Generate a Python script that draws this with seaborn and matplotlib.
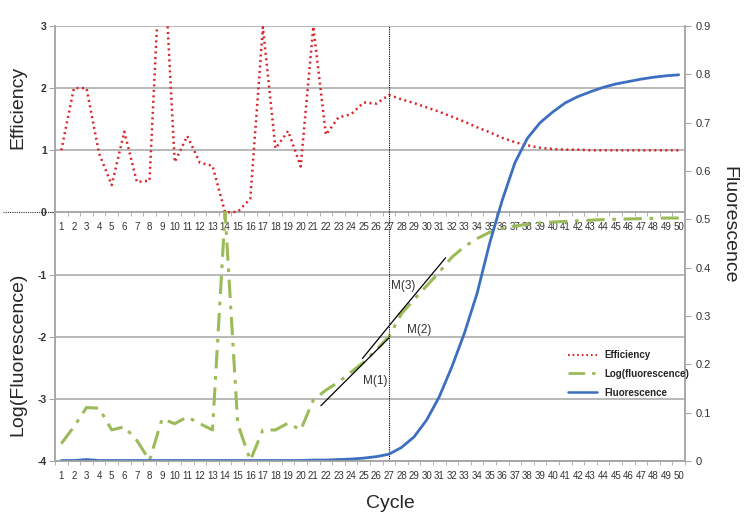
import numpy as np
import pandas as pd
import matplotlib
matplotlib.use("Agg")
import matplotlib.pyplot as plt
from matplotlib.ticker import FixedLocator
from matplotlib.lines import Line2D
import seaborn as sns

cycles = list(range(1, 51))
efficiency = [1.0, 2.0, 2.0, 0.95, 0.44, 1.3, 0.49, 0.51, 4.7, 0.81,
              1.23, 0.8, 0.75, 0.0, 0.01, 0.22, 2.98, 1.03, 1.31, 0.74,
              2.99, 1.25, 1.53, 1.58, 1.77, 1.75, 1.89, 1.82, 1.76, 1.69,
              1.62, 1.54, 1.46, 1.37, 1.29, 1.2, 1.13, 1.08, 1.04, 1.02,
              1.01, 1.01, 1.0, 1.0, 1.0, 1.0, 1.0, 1.0, 1.0, 1.0]
log_fluor = [-3.72, -3.45, -3.14, -3.15, -3.5, -3.45, -3.67, -3.99, -3.32, -3.4,
             -3.29, -3.4, -3.5, 0.0, -3.4, -3.99, -3.5, -3.5, -3.39, -3.5,
             -3.02, -2.86, -2.73, -2.57, -2.41, -2.21, -2.0, -1.63, -1.4, -1.18,
             -0.96, -0.72, -0.55, -0.42, -0.32, -0.26, -0.22, -0.19, -0.17, -0.155,
             -0.145, -0.135, -0.125, -0.115, -0.11, -0.105, -0.1, -0.095, -0.09, -0.09]
fluorescence = [0.001, 0.001, 0.003, 0.001, 0.001, 0.001, 0.001, 0.001, 0.001, 0.001,
                0.001, 0.001, 0.001, 0.001, 0.001, 0.001, 0.001, 0.001, 0.001, 0.001,
                0.002, 0.002, 0.003, 0.004, 0.006, 0.009, 0.014, 0.028, 0.05, 0.085,
                0.133, 0.195, 0.265, 0.347, 0.451, 0.54, 0.617, 0.668, 0.7, 0.722,
                0.741, 0.754, 0.764, 0.773, 0.78, 0.785, 0.79, 0.794, 0.797, 0.799]

# tangent segments M(1)..M(3)
tangent_names = ["M(1)", "M(2)", "M(3)"]
tangent_x = [[21.6, 27.0], [24.9, 27.8], [27.8, 31.5]]
tangent_y = [[-3.11, -2.02], [-2.35, -1.63], [-1.63, -0.73]]
label_x = [25.9, 29.4, 28.1]
label_y = [-2.71, -1.9, -1.18]
marker_cycle = 27

left_ticks = [-4, -3, -2, -1, 0, 1, 2, 3]
right_ticks = [0, 0.1, 0.2, 0.3, 0.4, 0.5, 0.6, 0.7, 0.8, 0.9]
right_labels = ["0", "0.1", "0.2", "0.3", "0.4", "0.5", "0.6", "0.7", "0.8", "0.9"]

df = pd.DataFrame({"Cycle": cycles, "Efficiency": efficiency,
                   "Log": log_fluor, "Fluorescence": fluorescence})

red = "#d9262b"
green = "#9bbb59"
blue = "#3c6fbf"
gray = "#a6a6a6"

sns.set_style("white")
plt.rcParams['font.family'] = ['Liberation Sans', 'DejaVu Sans']
plt.rcParams['axes.unicode_minus'] = False

fig = plt.figure(figsize=(7.5, 5.2), dpi=100)
ax = fig.add_axes([55/750, 1 - 461/520, 630/750, 435/520])
ax2 = ax.twinx()

ax.set_xlim(0.5, 50.5)
ax.set_ylim(-4, 3)
ax.set_yticks(left_ticks)
ax.grid(axis='y', color=gray, lw=1.1)
ax.set_axisbelow(True)

sns.lineplot(data=df, x="Cycle", y="Efficiency", ax=ax, color=red, lw=1.8,
             linestyle=(0, (0.8, 1.4)), legend=False)
sns.lineplot(data=df, x="Cycle", y="Log", ax=ax, color=green, lw=2.2,
             linestyle=(0, (6, 2.5, 1.2, 2.5)), legend=False)
for i in range(3):
    sns.lineplot(x=tangent_x[i], y=tangent_y[i], ax=ax, color="black", lw=0.9, legend=False)
    ax.text(label_x[i], label_y[i], tangent_names[i], fontsize=8.5, color="#333333",
            ha="center", va="center")
ax.axvline(marker_cycle, color="black", lw=0.8, ls=(0, (1, 1)))
ax.axhline(0, xmin=-52/630, xmax=0, clip_on=False, color="#333333", lw=0.8, ls=(0, (1, 1)))

sns.lineplot(data=df, x="Cycle", y="Fluorescence", ax=ax2, color=blue, lw=2.0, legend=False)
ax2.set_ylim(0, 0.9)
ax2.set_yticks(right_ticks, right_labels)
ax2.set_xlim(0.5, 50.5)

# bottom row of cycle labels
ax.set_xticks(cycles, [str(c) for c in cycles])
ax.xaxis.set_minor_locator(FixedLocator(np.arange(0.5, 51, 1)))
ax.tick_params(axis='x', which='major', length=0, labelsize=7, pad=7, colors="#333333")
ax.tick_params(axis='x', which='minor', length=3, direction='out', color=gray, bottom=True)
ax.tick_params(axis='y', length=4, direction='out', color=gray, left=True,
               labelsize=7.5, labelcolor="#333333", pad=2)
for lab in ax.get_yticklabels():
    lab.set_fontweight('bold')

# row of cycle labels along y = 0
sec = ax.secondary_xaxis(4/7)
sec.set_alignment('bottom')
sec.set_xticks(cycles, [str(c) for c in cycles])
sec.xaxis.set_minor_locator(FixedLocator(np.arange(0.5, 51, 1)))
sec.tick_params(axis='x', which='major', length=0, labelsize=7, pad=7, colors="#333333")
sec.tick_params(axis='x', which='minor', length=3, direction='out', color=gray)
sec.spines['bottom'].set_color(gray)
sec.spines['bottom'].set_linewidth(1.1)

ax2.tick_params(axis='y', length=4, direction='out', color=gray, right=True,
                labelsize=8, labelcolor="#333333", pad=4)

ax.set_xlabel("")
ax.set_ylabel("")
ax2.set_xlabel("")
ax2.set_ylabel("")
for a in (ax, ax2):
    for s in ['left', 'right', 'bottom']:
        a.spines[s].set_color(gray)
        a.spines[s].set_linewidth(1.1)
    a.spines['top'].set_visible(False)

fig.text(18/750, 1 - 107/520, "Efficiency", rotation=90, fontsize=14, ha="center", va="center")
fig.text(18/750, 1 - 354/520, "Log(Fluorescence)", rotation=90, fontsize=14, ha="center", va="center")
fig.text(729/750, 1 - 225/520, "Fluorescence", rotation=-90, fontsize=14, ha="center", va="center")
fig.text(390/750, 1 - 503/520, "Cycle", fontsize=14, ha="center", va="center")

handles = [Line2D([], [], color=red, lw=1.5, ls=(0, (0.8, 1.4))),
           Line2D([], [], color=green, lw=2.0, ls=(0, (6, 2.5, 1.2, 2.5))),
           Line2D([], [], color=blue, lw=1.8)]
ax2.legend(handles, ["Efficiency", "Log(fluorescence)", "Fluorescence"],
           loc="upper left", bbox_to_anchor=(0.8, 0.275), frameon=False,
           prop={'size': 7, 'weight': 'bold'}, handlelength=3, labelspacing=0.9)

fig.savefig("out.png", dpi=100)
